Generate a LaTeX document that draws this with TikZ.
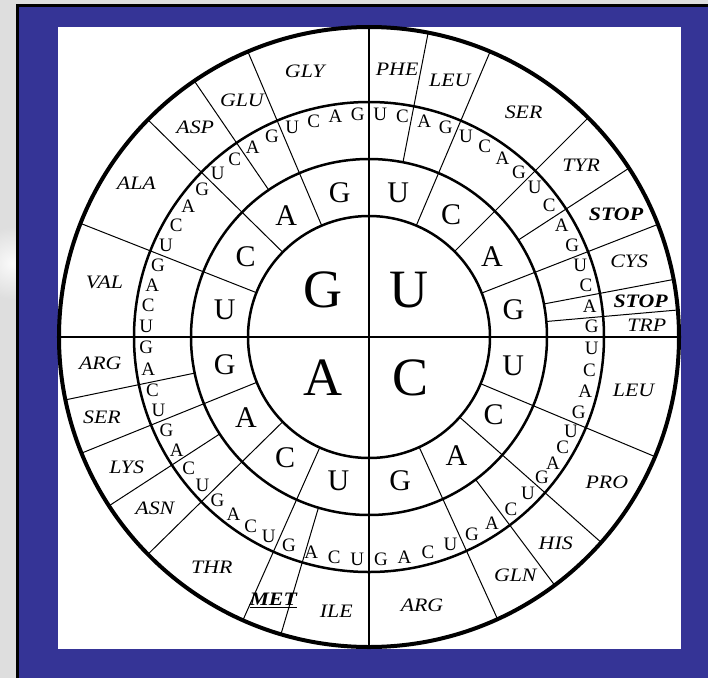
\documentclass[tikz,border=0pt]{standalone}
\usepackage{fontspec}
\setmainfont{Liberation Serif}
\newfontfamily\acidfont[FakeStretch=1.15]{Liberation Serif}

\definecolor{frameblue}{RGB}{53,52,150}
\definecolor{pagegray}{RGB}{222,222,222}

\begin{document}
\begin{tikzpicture}[
    x=1pt, y=1pt,
    % First base (centre)
    first/.style={font=\fontsize{54}{54}\selectfont, inner sep=0pt},
    % Second base ring
    second/.style={font=\fontsize{30}{30}\selectfont, inner sep=0pt},
    % Third base ring
    third/.style={font=\fontsize{19}{19}\selectfont, inner sep=0pt},
    % Amino acid labels
    acid/.style={font=\acidfont\itshape\fontsize{19}{19}\selectfont, inner sep=0pt},
    stopacid/.style={acid, font=\acidfont\bfseries\itshape\fontsize{19}{19}\selectfont},
    % Circles and spokes
    ring/.style={line width=2.5pt},
    rim/.style={line width=4pt},
    spoke/.style={line width=1pt},
    cross/.style={line width=1.5pt},
]

% ===== FRAME =====
\fill[pagegray] (-369,-341) rectangle (339,337);
\begin{scope}
    \clip (-369,-341) rectangle (-353,337);
    \shade[inner color=white!85!pagegray, outer color=pagegray] (-357,74) circle (36);
\end{scope}
\fill[black] (-353,333) rectangle (339,-341);
\fill[frameblue] (-350,330) rectangle (339,-341);
\fill[white] (-311,310) rectangle (312,-312);
\path[use as bounding box] (-369,-341) rectangle (339,337);

% ===== CIRCLES =====
\draw[rim] (0,0) circle (310);
\draw[ring] (0,0) circle (235);
\draw[ring] (0,0) circle (178);
\draw[ring] (0,0) circle (121);

\draw[cross] (-310,0) -- (310,0);
\draw[cross] (0,-310) -- (0,310);

% Second base boundaries
\foreach \a in {67,45,21.3,-22.7,-41.5,-65.5,-114,-135.5,-158,158.5,135.5,113}
    \draw[spoke] (\a:121) -- (\a:310);
% Amino acid boundaries inside a sector
\foreach \a in {79,33,10.7,5,-53.2,-106.5,-147,-168.3,124.3}
    \draw[spoke] (\a:178) -- (\a:310);

% ===== FIRST BASE =====
\node[first] (first-u) at (40,47) {U};
\node[first] (first-c) at (42,-41) {C};
\node[first] (first-a) at (-46,-41) {A};
\node[first] (first-g) at (-46,47) {G};

% ===== SECOND AND THIRD BASE =====
\foreach \a/\b/\l [count=\k] in {90/67/U, 67/45/C, 45/21.3/A, 21.3/0/G,
        0/-22.7/U, -22.7/-41.5/C, -41.5/-65.5/A, -65.5/-90/G,
        -90/-114/U, -114/-135.5/C, -135.5/-158/A, -158/-180/G,
        180/158.5/U, 158.5/135.5/C, 135.5/113/A, 113/90/G} {
    \node[second] (second-\k) at ({(\a+\b)/2}:147) {\l};
    \foreach \t [count=\j] in {U,C,A,G}
        \node[third] (third-\k-\j) at ({\a+(\b-\a)*(\j-0.5)/4}:223) {\t};
}

% ===== AMINO ACIDS =====
% U quadrant
\node[acid] (phe) at (84:269) {PHE};
\node[acid] (leu-u) at (72.5:269) {LEU};
\node[acid] (ser-u) at (55.5:273) {SER};
\node[acid] (tyr) at (39:273) {TYR};
\node[stopacid] (stop-a) at (26.5:276) {STOP};
\node[acid] (cys) at (16.2:271) {CYS};
\node[stopacid] (stop-g) at (7.5:274) {STOP};
\node[acid] (trp) at (2.5:278) {TRP};

% C quadrant
\node[acid] (leu-c) at (-11.5:270) {LEU};
\node[acid] (pro) at (-31.5:279) {PRO};
\node[acid] (his) at (-47.8:278) {HIS};
\node[acid] (gln) at (-58.5:280) {GLN};
\node[acid] (arg-c) at (-78.8:273) {ARG};

% A quadrant
\node[acid] (ile) at (-96.8:276) {ILE};
\node[stopacid] (met) at (-110:280) {\underline{MET}};
\node[acid] (thr) at (-124.3:279) {THR};
\node[acid] (asn) at (-141.4:274) {ASN};
\node[acid] (lys) at (-151.8:275) {LYS};
\node[acid] (ser-a) at (-163.2:279) {SER};
\node[acid] (arg-a) at (-174.5:270) {ARG};

% G quadrant
\node[acid] (val) at (168.4:270) {VAL};
\node[acid] (ala) at (146.5:279) {ALA};
\node[acid] (asp) at (129.7:272) {ASP};
\node[acid] (glu) at (118.2:269) {GLU};
\node[acid] (gly) at (103.6:273) {GLY};

\end{tikzpicture}
\end{document}
